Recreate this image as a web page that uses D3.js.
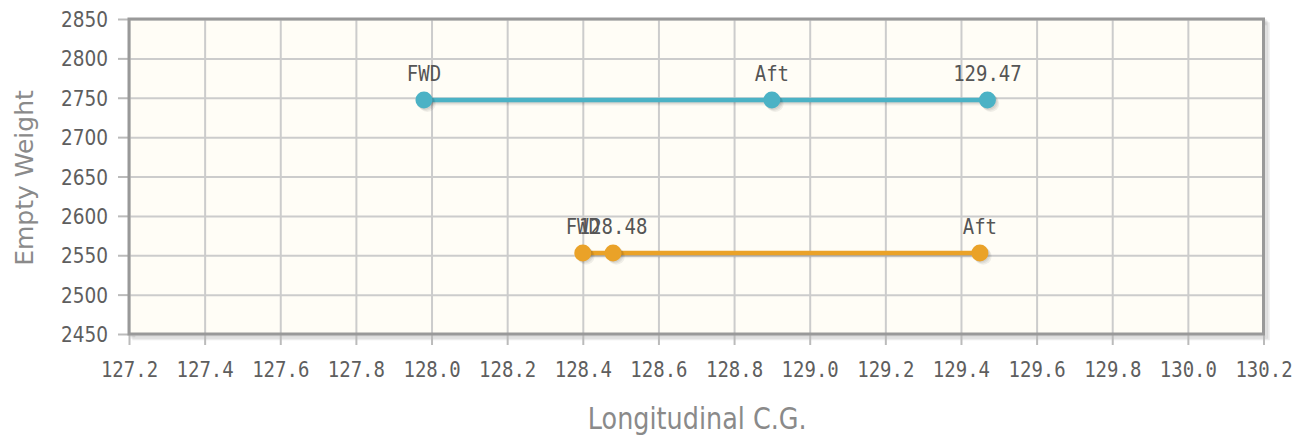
<!DOCTYPE html>
<html>
<head>
<meta charset="utf-8">
<script src="https://cdn.jsdelivr.net/npm/d3@7/dist/d3.min.js"></script>
<style>
  html, body { margin: 0; padding: 0; background: #ffffff; }
  svg { display: block; }
</style>
</head>
<body>
<svg id="chart" width="1299" height="441"></svg>
<script>
// ---- data ----
const xTickValues = [127.2, 127.4, 127.6, 127.8, 128.0, 128.2, 128.4, 128.6, 128.8, 129.0, 129.2, 129.4, 129.6, 129.8, 130.0, 130.2];
const yTickValues = [2450, 2500, 2550, 2600, 2650, 2700, 2750, 2800, 2850];
const seriesNames = ["Series A", "Series B"];
const seriesAX = [127.98, 128.90, 129.47];
const seriesAY = [2747, 2747, 2747];
const seriesALabels = ["FWD", "Aft", "129.47"];
const seriesBX = [128.40, 128.48, 129.45];
const seriesBY = [2553, 2553, 2553];
const seriesBLabels = ["FWD", "128.48", "Aft"];
const seriesColors = ["#4bb2c5", "#EAA228"];
const xTitle = "Longitudinal C.G.";
const yTitle = "Empty Weight";

const series = [
  { name: seriesNames[0], color: seriesColors[0], pts: seriesAX.map((x, i) => ({ x, y: seriesAY[i], label: seriesALabels[i] })) },
  { name: seriesNames[1], color: seriesColors[1], pts: seriesBX.map((x, i) => ({ x, y: seriesBY[i], label: seriesBLabels[i] })) }
];

// ---- layout ----
const L = 129, R = 1263.5, T = 19, B = 334;
const SY = 1.15; // vertical stretch of glyphs
const svg = d3.select("#chart");
const x = d3.scaleLinear().domain([127.2, 130.2]).range([L, R]);
const y = d3.scaleLinear().domain([2450, 2850]).range([B, T]);

// plot background shadow
const sh = svg.append("g");
for (let k = 1; k <= 3; k++) {
  sh.append("rect")
    .attr("x", L + k * 1.6).attr("y", T + k * 1.6)
    .attr("width", R - L).attr("height", B - T)
    .attr("fill", "none").attr("stroke", "rgba(0,0,0,0.07)").attr("stroke-width", 3);
}
svg.append("rect").attr("x", L).attr("y", T).attr("width", R - L).attr("height", B - T)
  .attr("fill", "#fffdf6");

// grid
svg.append("g").attr("transform", `translate(0,${B})`)
  .call(d3.axisBottom(x).tickValues(xTickValues).tickSize(-(B - T)).tickFormat(""))
  .call(g => g.select(".domain").remove())
  .call(g => g.selectAll("line").attr("stroke", "#cccccc").attr("stroke-width", 2));
svg.append("g").attr("transform", `translate(${L},0)`)
  .call(d3.axisLeft(y).tickValues(yTickValues).tickSize(-(R - L)).tickFormat(""))
  .call(g => g.select(".domain").remove())
  .call(g => g.selectAll("line").attr("stroke", "#cccccc").attr("stroke-width", 2));

// outer tick marks + labels
svg.append("g").attr("transform", `translate(0,${B})`)
  .call(d3.axisBottom(x).tickValues(xTickValues).tickSize(11).tickPadding(18).tickFormat(d3.format(".1f")))
  .call(g => g.select(".domain").remove())
  .call(g => g.selectAll("line").attr("stroke", "#bbbbbb").attr("stroke-width", 2))
  .call(g => g.selectAll("text").attr("fill", "#5e5e5e").attr("font-family", "DejaVu Sans Mono").attr("font-size", 19)
    .attr("y", 0).attr("dy", 0).attr("transform", `translate(0,43) scale(1,${SY})`));
svg.append("g").attr("transform", `translate(${L},0)`)
  .call(d3.axisLeft(y).tickValues(yTickValues).tickSize(11).tickPadding(9).tickFormat(d3.format("d")))
  .call(g => g.select(".domain").remove())
  .call(g => g.selectAll("line").attr("stroke", "#bbbbbb").attr("stroke-width", 2))
  .call(g => g.selectAll("text").attr("fill", "#5e5e5e").attr("font-family", "DejaVu Sans").attr("font-size", 18.5)
    .attr("x", 0).attr("dy", 0).attr("transform", `translate(-21,7.5) scale(1,${SY})`));

// border
svg.append("rect").attr("x", L).attr("y", T).attr("width", R - L).attr("height", B - T)
  .attr("fill", "none").attr("stroke", "#999999").attr("stroke-width", 3);

// series
const line = d3.line().x(d => x(d.x)).y(d => y(d.y));
series.forEach(s => {
  const g = svg.append("g");
  for (let k = 1; k <= 3; k++) {
    g.append("path").datum(s.pts).attr("d", line)
      .attr("transform", `translate(${k * 1.1},${k * 1.1})`)
      .attr("fill", "none").attr("stroke", "rgba(0,0,0,0.06)").attr("stroke-width", 4);
  }
  g.append("path").datum(s.pts).attr("d", line)
    .attr("fill", "none").attr("stroke", s.color).attr("stroke-width", 4.5);
  for (let k = 1; k <= 3; k++) {
    g.selectAll(null).data(s.pts).enter().append("circle")
      .attr("cx", d => x(d.x) + k * 1.1).attr("cy", d => y(d.y) + k * 1.1).attr("r", 8.5)
      .attr("fill", "rgba(0,0,0,0.06)");
  }
  g.selectAll(null).data(s.pts).enter().append("circle")
    .attr("cx", d => x(d.x)).attr("cy", d => y(d.y)).attr("r", 8.5)
    .attr("fill", s.color);
  g.selectAll(null).data(s.pts).enter().append("text")
    .attr("transform", d => `translate(${x(d.x)},${y(d.y) - 19}) scale(1,${SY})`)
    .attr("text-anchor", "middle")
    .attr("font-family", "DejaVu Sans Mono").attr("font-size", 19)
    .attr("fill", "#555555")
    .text(d => d.label);
});

// axis titles
svg.append("text").attr("transform", `translate(${(L + R) / 2 + 1},429) scale(1,${SY})`)
  .attr("text-anchor", "middle").attr("font-family", "DejaVu Sans").attr("font-size", 25.5)
  .attr("fill", "#8a8a8a").text(xTitle);
svg.append("text").attr("transform", `translate(33,178) rotate(-90)`)
  .attr("text-anchor", "middle").attr("font-family", "DejaVu Sans").attr("font-size", 25)
  .attr("fill", "#8a8a8a").text(yTitle);
</script>
</body>
</html>
